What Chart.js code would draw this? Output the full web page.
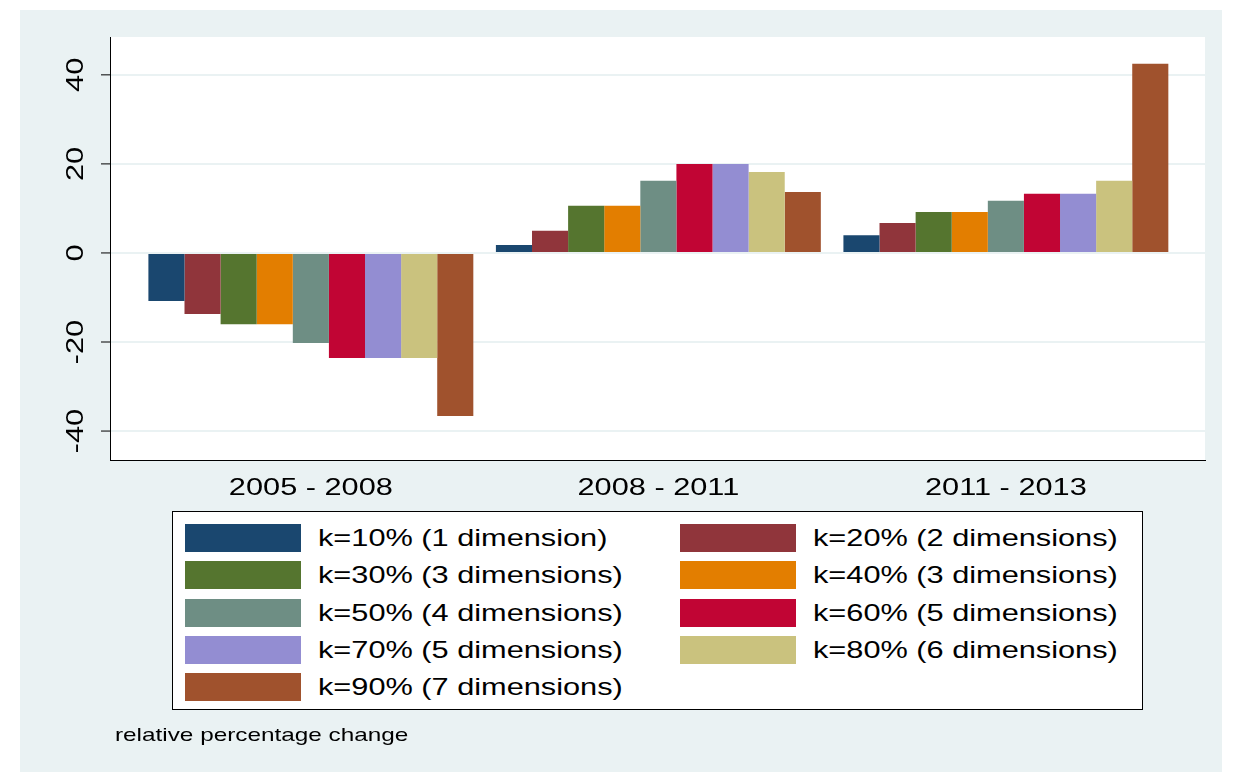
<!DOCTYPE html>
<html>
<head>
<meta charset="utf-8">
<script src="https://cdn.jsdelivr.net/npm/chart.js@4/dist/chart.umd.min.js"></script>
<style>
  body { margin: 0; background: #fff; font-family: 'Liberation Sans', Arial, sans-serif; }
  #wrap { position: relative; width: 1233px; height: 772px; }
  #bg { position: absolute; left: 20px; top: 10px; width: 1202px; height: 762px; background: #eaf2f3; }
  #chart { position: absolute; left: 0; top: 0; }
  #legend { position: absolute; left: 172px; top: 511px; width: 969px; height: 197px;
            background: #fff; border: 1px solid #000; }
  .item { position: absolute; height: 28px; font-size: 24px; line-height: 28px; white-space: nowrap; }
  .sw { position: absolute; left: 0; top: 0; width: 116px; height: 28px; }
  .lab { position: absolute; left: 133px; top: 0; transform: scaleX(1.28); transform-origin: left center; }
  #note { position: absolute; left: 115px; top: 724px; font-size: 19px;
          transform: scaleX(1.28); transform-origin: left center; white-space: nowrap; }
</style>
</head>
<body>
<div id="wrap">
  <div id="bg"></div>
  <canvas id="chart" width="1233" height="772"></canvas>
  <div id="legend"></div>
  <div id="note">relative percentage change</div>
</div>
<script>
// ===== DATA =====
const categories = ['2005 - 2008', '2008 - 2011', '2011 - 2013'];
const seriesNames = [
    'k=10% (1 dimension)', 'k=20% (2 dimensions)', 'k=30% (3 dimensions)',
    'k=40% (3 dimensions)', 'k=50% (4 dimensions)', 'k=60% (5 dimensions)',
    'k=70% (5 dimensions)', 'k=80% (6 dimensions)', 'k=90% (7 dimensions)'
];
const k10 = [-10.8, 1.8, 4.0];
const k20 = [-13.7, 5.0, 6.7];
const k30 = [-16.0, 10.6, 9.2];
const k40 = [-16.0, 10.6, 9.2];
const k50 = [-20.2, 16.2, 11.7];
const k60 = [-23.6, 20.0, 13.3];
const k70 = [-23.6, 20.0, 13.3];
const k80 = [-23.6, 18.2, 16.2];
const k90 = [-36.6, 13.7, 42.5];
const yTicks = [-40, -20, 0, 20, 40];

const colors = ['#1a476f', '#90353b', '#55752f', '#e37e00', '#6e8e84',
                '#c10534', '#938dd2', '#cac27e', '#a0522d'];
const seriesValues = [k10, k20, k30, k40, k50, k60, k70, k80, k90];

const FONT = "24px 'Liberation Sans', Arial, sans-serif";
const STRETCH = 1.28; // the reference text is drawn wider than normal

// Axis labels drawn by hand so they can be stretched like the reference
const axisLabelsPlugin = {
    id: 'axisLabels',
    afterDraw(chart) {
        const ctx = chart.ctx;
        const x = chart.scales.x;
        const y = chart.scales.y;
        const area = chart.chartArea;
        ctx.save();
        ctx.strokeStyle = '#000';
        ctx.lineWidth = 1;
        ctx.fillStyle = '#000';
        ctx.font = FONT;
        ctx.textAlign = 'center';
        ctx.textBaseline = 'middle';
        yTicks.forEach(v => {
            const py = y.getPixelForValue(v);
            ctx.beginPath();
            ctx.moveTo(area.left - 9, py);
            ctx.lineTo(area.left, py);
            ctx.stroke();
            ctx.save();
            ctx.translate(76, py);
            ctx.rotate(-Math.PI / 2);
            ctx.scale(STRETCH, 1);
            ctx.fillText(String(v), 0, 0);
            ctx.restore();
        });
        categories.forEach((c, i) => {
            ctx.save();
            ctx.translate(x.getPixelForValue(i), area.bottom + 28);
            ctx.scale(STRETCH, 1);
            ctx.fillText(c, 0, 0);
            ctx.restore();
        });
        ctx.restore();
    }
};

new Chart(document.getElementById('chart'), {
    type: 'bar',
    data: {
        datasets: seriesValues.map((vals, i) => ({
            label: seriesNames[i],
            data: vals.map((v, j) => ({ x: j, y: v })),
            backgroundColor: colors[i],
            borderWidth: 0,
            barPercentage: 1.0,
            categoryPercentage: 1.87
        }))
    },
    options: {
        responsive: false,
        animation: { duration: 0 },
        layout: { padding: { left: 110, right: 28, top: 37, bottom: 0 } },
        plugins: {
            legend: { display: false },
            tooltip: { enabled: false }
        },
        scales: {
            x: {
                type: 'linear',
                offset: false,
                min: -0.578,
                max: 2.573,
                grid: { display: false, drawTicks: false },
                border: { color: '#000', width: 1 },
                ticks: { display: false },
                afterFit(scale) { scale.height = 312; }
            },
            y: {
                min: -46.5,
                max: 48.5,
                afterBuildTicks(scale) { scale.ticks = yTicks.map(v => ({ value: v })); },
                grid: { color: '#eaf2f3', lineWidth: 2, drawTicks: false },
                border: { color: '#000', width: 1 },
                ticks: { display: false },
                afterFit(scale) { scale.width = 0; }
            }
        }
    },
    plugins: [{
        id: 'chartAreaBg',
        beforeDraw(chart) {
            const a = chart.chartArea;
            chart.ctx.save();
            chart.ctx.fillStyle = '#fff';
            chart.ctx.fillRect(a.left, a.top, a.right - a.left, a.bottom - a.top);
            chart.ctx.restore();
        }
    }, axisLabelsPlugin]
});

// Legend in two columns
const legend = document.getElementById('legend');
seriesNames.forEach((name, i) => {
    const col = i % 2, row = Math.floor(i / 2);
    const el = document.createElement('div');
    el.className = 'item';
    el.style.left = (col === 0 ? 12 : 507) + 'px';
    el.style.top = (12 + row * 37.3) + 'px';
    el.innerHTML = `<span class="sw" style="background:${colors[i]}"></span><span class="lab">${name}</span>`;
    legend.appendChild(el);
});
</script>
</body>
</html>
